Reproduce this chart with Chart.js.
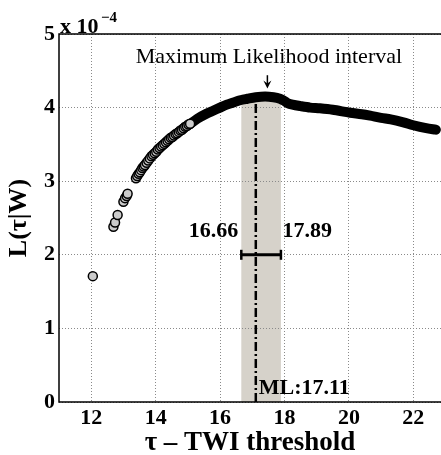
<!DOCTYPE html>
<html>
<head>
<meta charset="utf-8">
<script src="https://cdn.jsdelivr.net/npm/chart.js@4/dist/chart.umd.min.js"></script>
<style>
  html, body { margin: 0; padding: 0; background: #fff; }
  canvas { display: block; }
</style>
</head>
<body>
<canvas id="c" width="441" height="455"></canvas>
<script>
// Likelihood L(τ|W) (units of 1e-4) against the TWI threshold τ.

// Low-threshold samples, drawn as individual circles
const sparseTau = [12.05, 12.69, 12.74, 12.82, 13.00, 13.05, 13.10, 13.13,
  13.39, 13.43, 13.47, 13.51, 13.55, 13.59, 13.63, 13.67,
  13.72, 13.77, 13.82, 13.87, 13.92, 13.97, 14.02, 14.07, 14.12, 14.17,
  14.22, 14.27, 14.32, 14.37, 14.42, 14.47, 14.52, 14.57, 14.62, 14.67,
  14.72, 14.77, 14.82, 14.87, 14.92, 14.97, 15.02, 15.07];
const sparseL = [1.71, 2.38, 2.44, 2.54, 2.72, 2.77, 2.80, 2.83,
  3.04, 3.07, 3.10, 3.12, 3.15, 3.18, 3.20, 3.22,
  3.25, 3.28, 3.31, 3.34, 3.36, 3.38, 3.40, 3.43, 3.45, 3.47,
  3.49, 3.51, 3.53, 3.55, 3.57, 3.59, 3.60, 3.62, 3.64, 3.65,
  3.67, 3.69, 3.70, 3.72, 3.74, 3.75, 3.77, 3.78];

// Densely sampled part of the likelihood curve (markers merge into a band)
const curveTau = [15.05, 15.30, 15.59, 15.80, 16.00, 16.21, 16.42, 16.62, 16.85,
  17.11, 17.40, 17.66, 17.86, 18.00, 18.10, 18.25, 18.50, 18.80, 19.10, 19.50,
  20.04, 20.40, 20.66, 21.00, 21.30, 21.69, 22.00, 22.40, 22.70];
const curveL = [3.77, 3.85, 3.92, 3.96, 4.00, 4.04, 4.07, 4.10, 4.12,
  4.14, 4.15, 4.14, 4.12, 4.09, 4.06, 4.04, 4.02, 4.00, 3.99, 3.97,
  3.93, 3.91, 3.89, 3.86, 3.84, 3.80, 3.76, 3.72, 3.70];

// Maximum likelihood estimate and its interval
const mlInterval = [16.66, 17.89];
const mlValue = [17.11];
const mlBandTop = [4.18];
const intervalBarL = [2];

// Axis ticks
const xTicks = [12, 14, 16, 18, 20, 22];
const yTicks = [0, 1, 2, 3, 4, 5];

const SERIF = "'Liberation Serif', 'Times New Roman', serif";
const pts = (xs, ys) => xs.map((v, i) => ({ x: v, y: ys[i] }));

const decor = {
  id: 'decor',
  beforeDraw(chart) {
    const { ctx, chartArea: a, scales: { x, y } } = chart;
    const x0 = x.getPixelForValue(mlInterval[0]);
    const x1 = x.getPixelForValue(mlInterval[1]);
    const yt = y.getPixelForValue(mlBandTop[0]);
    ctx.save();
    ctx.fillStyle = '#d6d2ca';
    ctx.fillRect(x0, yt, x1 - x0, a.bottom - yt);
    ctx.restore();
  },
  afterDraw(chart) {
    const { ctx, chartArea: a, scales: { x, y } } = chart;
    ctx.save();
    // axes box (left, bottom, top)
    ctx.strokeStyle = '#000';
    ctx.lineWidth = 1.5;
    ctx.beginPath();
    ctx.moveTo(a.right, a.top);
    ctx.lineTo(a.left, a.top);
    ctx.lineTo(a.left, a.bottom);
    ctx.lineTo(a.right, a.bottom);
    ctx.stroke();

    ctx.fillStyle = '#000';
    ctx.textBaseline = 'alphabetic';

    // interval end labels
    const x0 = x.getPixelForValue(mlInterval[0]);
    const x1 = x.getPixelForValue(mlInterval[1]);
    const ye = y.getPixelForValue(intervalBarL[0]);
    ctx.font = 'bold 22px ' + SERIF;
    ctx.textAlign = 'right';
    ctx.fillText(mlInterval[0].toFixed(2), x0 - 3, ye - 18);
    ctx.textAlign = 'left';
    ctx.fillText(mlInterval[1].toFixed(2), x1 + 1.5, ye - 18);
    ctx.fillText('ML:' + mlValue[0].toFixed(2), x.getPixelForValue(mlValue[0]) + 3, a.bottom - 8);

    // annotation with arrow
    const xa = x.getPixelForValue(17.47);
    ctx.font = '22px ' + SERIF;
    ctx.textAlign = 'center';
    ctx.fillText('Maximum Likelihood interval', xa + 1.5, y.getPixelForValue(4.61));
    const ya0 = y.getPixelForValue(4.44), ya1 = y.getPixelForValue(4.26);
    ctx.lineWidth = 1.5;
    ctx.beginPath();
    ctx.moveTo(xa, ya0);
    ctx.lineTo(xa, ya1 - 4);
    ctx.stroke();
    ctx.beginPath();
    ctx.moveTo(xa, ya1);
    ctx.lineTo(xa - 4, ya1 - 8);
    ctx.lineTo(xa, ya1 - 5);
    ctx.lineTo(xa + 4, ya1 - 8);
    ctx.closePath();
    ctx.fill();

    // exponent label of the y axis
    ctx.textAlign = 'left';
    ctx.font = 'bold 22px ' + SERIF;
    ctx.fillText('x 10', a.left + 1, a.top - 1);
    ctx.font = 'bold 15px ' + SERIF;
    ctx.fillText('\u22124', a.left + 42, a.top - 12);
    ctx.restore();
  }
};

new Chart(document.getElementById('c'), {
  type: 'scatter',
  data: {
    datasets: [
      {
        // ML estimate: dash-dot vertical line
        data: pts([mlValue[0], mlValue[0]], [0, mlBandTop[0] - 0.05]),
        showLine: true,
        borderColor: '#000',
        borderWidth: 2.5,
        borderDash: [9, 3, 2, 3],
        pointRadius: 0,
        order: 4
      },
      {
        // ML interval bar with end caps
        data: pts(mlInterval, [intervalBarL[0], intervalBarL[0]]),
        showLine: true,
        borderColor: '#000',
        borderWidth: 3,
        pointStyle: 'line',
        rotation: 90,
        pointRadius: 5,
        pointBorderWidth: 2.5,
        pointBorderColor: '#000',
        order: 3
      },
      {
        // dense part of the likelihood curve
        data: pts(curveTau, curveL),
        showLine: true,
        borderColor: '#000',
        borderWidth: 10,
        borderCapStyle: 'round',
        borderJoinStyle: 'round',
        tension: 0.3,
        pointRadius: 0,
        order: 2
      },
      {
        // individual samples
        data: pts(sparseTau, sparseL),
        showLine: false,
        pointRadius: 4.5,
        pointBorderWidth: 1.5,
        pointBackgroundColor: '#cbcbcb',
        pointBorderColor: '#000',
        order: 1
      }
    ]
  },
  options: {
    responsive: false,
    animation: false,
    devicePixelRatio: 1,
    layout: { autoPadding: false, padding: { top: 34, left: 0, right: 0, bottom: 0 } },
    plugins: { legend: { display: false }, tooltip: { enabled: false } },
    scales: {
      x: {
        type: 'linear',
        min: 11,
        max: 22.86,
        afterBuildTicks: s => { s.ticks = xTicks.map(v => ({ value: v })); },
        afterFit: s => { s.height = 53; },
        ticks: {
          color: '#000',
          padding: 5,
          font: { family: SERIF, size: 22, weight: 'bold', lineHeight: 1 },
          callback: v => String(v)
        },
        grid: { color: '#8a8a8a', lineWidth: 1, drawTicks: false },
        border: { display: false, dash: [1, 2] },
        title: {
          display: true,
          text: 'τ – TWI threshold',
          color: '#000',
          font: { family: SERIF, size: 27, weight: 'bold', lineHeight: 0.9 },
          padding: { top: 0, bottom: 0 }
        }
      },
      y: {
        type: 'linear',
        min: 0,
        max: 5,
        afterBuildTicks: s => { s.ticks = yTicks.map(v => ({ value: v })); },
        afterFit: s => { s.width = 59; },
        ticks: {
          color: '#000',
          padding: 4,
          font: { family: SERIF, size: 22, weight: 'bold', lineHeight: 1 },
          callback: v => String(v)
        },
        grid: { color: '#8a8a8a', lineWidth: 1, drawTicks: false },
        border: { display: false, dash: [1, 2] },
        title: {
          display: true,
          text: 'L(τ|W)',
          color: '#000',
          font: { family: SERIF, size: 26, weight: 'bold', lineHeight: 1 },
          padding: { top: 6, bottom: 0 }
        }
      }
    }
  },
  plugins: [decor]
});
</script>
</body>
</html>
